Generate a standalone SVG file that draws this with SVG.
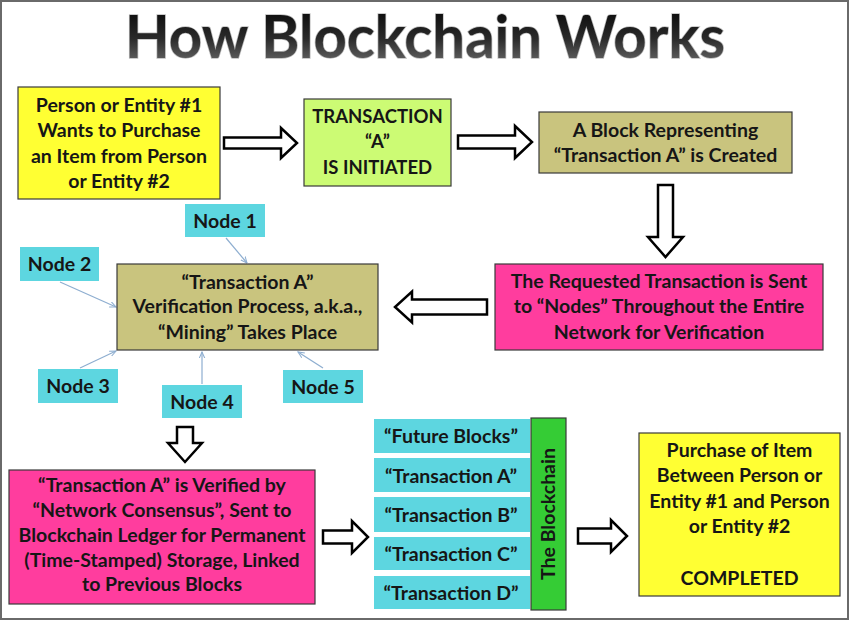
<svg xmlns="http://www.w3.org/2000/svg" width="850" height="621" viewBox="0 0 850 621">
<defs>
<style>
.box{stroke:#3a3a3a;stroke-width:1.2}
.t{font-family:Lato,"Liberation Sans",sans-serif;font-weight:bold;font-size:19.5px;fill:#161616;text-anchor:middle}
.barrow{fill:#fff;stroke:#000;stroke-width:2.5;stroke-linejoin:miter}
.conn{stroke:#8eaed0;stroke-width:1.2;fill:none;marker-end:url(#ah)}
.yellow{fill:#ffff33}
.lgreen{fill:#ccfb74}
.khaki{fill:#c9c47e}
.pink{fill:#ff3d9e}
.cyan{fill:#5dd6e0}
</style>
<marker id="ah" viewBox="0 0 10 10" refX="9" refY="5" markerWidth="7" markerHeight="7" orient="auto" markerUnits="userSpaceOnUse">
<path d="M0,1 L9,5 L0,9" fill="none" stroke="#8eaed0" stroke-width="1.5"/>
</marker>
<linearGradient id="tg" x1="0" y1="0" x2="0" y2="1">
<stop offset="0" stop-color="#000"/>
<stop offset="0.55" stop-color="#2a2a2a"/>
<stop offset="1" stop-color="#777"/>
</linearGradient>
</defs>
<rect x="1" y="1" width="847" height="618" fill="#fff" stroke="#6a6a6a" stroke-width="2"/>

<text x="425" y="58" font-family="Lato,'Liberation Sans',sans-serif" font-weight="bold" font-size="60" text-anchor="middle" textLength="600" lengthAdjust="spacingAndGlyphs" fill="url(#tg)" stroke="#bdbdbd" stroke-width="1.5" paint-order="stroke">How Blockchain Works</text>

<g id="connectors">
<path class="barrow" d="M224,137.5 H281 V128 L297,143 L281,158 V148.5 H224 Z"/>
<path class="barrow" d="M458,135.5 H515 V126 L532,142 L515,158 V148.5 H458 Z"/>
<path class="barrow" d="M658,185 H673 V237 H683 L665.5,257 L648,237 H658 Z"/>
<path class="barrow" d="M487,299.5 H412 V291.5 L395,307 L412,322.5 V314.5 H487 Z"/>
<path class="barrow" d="M177,427 H193 V443 H202 L185,462 L168,443 H177 Z"/>
<path class="barrow" d="M323,530.5 H352 V521 L368,537 L352,553 V543.5 H323 Z"/>
<path class="barrow" d="M578,528.5 H611 V520 L627,536 L611,552 V543.5 H578 Z"/>
<line class="conn" x1="226" y1="238" x2="247" y2="263"/>
<line class="conn" x1="60" y1="282" x2="116" y2="307"/>
<line class="conn" x1="80" y1="368" x2="116" y2="351"/>
<line class="conn" x1="202" y1="384" x2="202" y2="352"/>
<line class="conn" x1="323" y1="368" x2="298" y2="352"/>
</g>

<g id="person1">
<rect class="box yellow" x="18" y="87" width="202" height="112"/>
<text class="t"><tspan x="119" y="112">Person or Entity #1</tspan><tspan x="119" y="137">Wants to Purchase</tspan><tspan x="119" y="163">an Item from Person</tspan><tspan x="119" y="188">or Entity #2</tspan></text>
</g>

<g id="initiated">
<rect class="box lgreen" x="304" y="99" width="147" height="87"/>
<text class="t" style="font-size:18.5px"><tspan x="377.5" y="123">TRANSACTION</tspan><tspan x="377.5" y="148">“A”</tspan><tspan x="377.5" y="174">IS INITIATED</tspan></text>
</g>

<g id="block-created">
<rect class="box khaki" x="539" y="112" width="253" height="61"/>
<text class="t"><tspan x="665.5" y="137">A Block Representing</tspan><tspan x="665.5" y="162">“Transaction A” is Created</tspan></text>
</g>

<g id="sent-to-nodes">
<rect class="box pink" x="495" y="264" width="328" height="86"/>
<text class="t"><tspan x="659" y="288">The Requested Transaction is Sent</tspan><tspan x="659" y="313">to “Nodes” Throughout the Entire</tspan><tspan x="659" y="339">Network for Verification</tspan></text>
</g>

<g id="verification">
<rect class="box khaki" x="117" y="264" width="261" height="86"/>
<text class="t"><tspan x="247.5" y="289">“Transaction A”</tspan><tspan x="247.5" y="313">Verification Process, a.k.a.,</tspan><tspan x="247.5" y="339">“Mining” Takes Place</tspan></text>
</g>

<g id="node1"><rect class="cyan" x="185" y="204" width="80" height="33"/><text class="t" x="225" y="228">Node 1</text></g>
<g id="node2"><rect class="cyan" x="20" y="247" width="79" height="34"/><text class="t" x="59.5" y="271">Node 2</text></g>
<g id="node3"><rect class="cyan" x="38" y="369" width="80" height="34"/><text class="t" x="78" y="393">Node 3</text></g>
<g id="node4"><rect class="cyan" x="162" y="385" width="80" height="33"/><text class="t" x="202" y="409">Node 4</text></g>
<g id="node5"><rect class="cyan" x="283" y="370" width="80" height="33"/><text class="t" x="323" y="394">Node 5</text></g>

<g id="verified">
<rect class="box pink" x="9" y="470" width="306" height="134"/>
<text class="t"><tspan x="162" y="492">“Transaction  A” is Verified by</tspan><tspan x="162" y="517">“Network Consensus”, Sent to</tspan><tspan x="162" y="542">Blockchain Ledger for Permanent</tspan><tspan x="162" y="567">(Time-Stamped) Storage, Linked</tspan><tspan x="162" y="591">to Previous Blocks</tspan></text>
</g>

<g id="blockchain">
<rect class="cyan" x="374" y="419" width="156" height="34"/>
<rect class="cyan" x="374" y="458" width="156" height="34"/>
<rect class="cyan" x="374" y="497" width="156" height="35"/>
<rect class="cyan" x="374" y="537" width="156" height="33"/>
<rect class="cyan" x="374" y="576" width="156" height="33"/>
<text class="t" x="451" y="443">“Future Blocks”</text>
<text class="t" x="451" y="483">“Transaction A”</text>
<text class="t" x="451" y="522">“Transaction B”</text>
<text class="t" x="451" y="561">“Transaction C”</text>
<text class="t" x="451" y="600">“Transaction D”</text>
<rect class="box" x="531" y="418" width="35" height="192" fill="#35cc35"/>
<text class="t" transform="translate(555,514) rotate(-90)" x="0" y="0">The Blockchain</text>
</g>

<g id="completed">
<rect class="box yellow" x="639" y="433" width="201" height="163"/>
<text class="t"><tspan x="739.5" y="457">Purchase of Item</tspan><tspan x="739.5" y="482">Between Person or</tspan><tspan x="739.5" y="508">Entity #1 and Person</tspan><tspan x="739.5" y="533">or Entity #2</tspan><tspan x="739.5" y="585">COMPLETED</tspan></text>
</g>
</svg>
